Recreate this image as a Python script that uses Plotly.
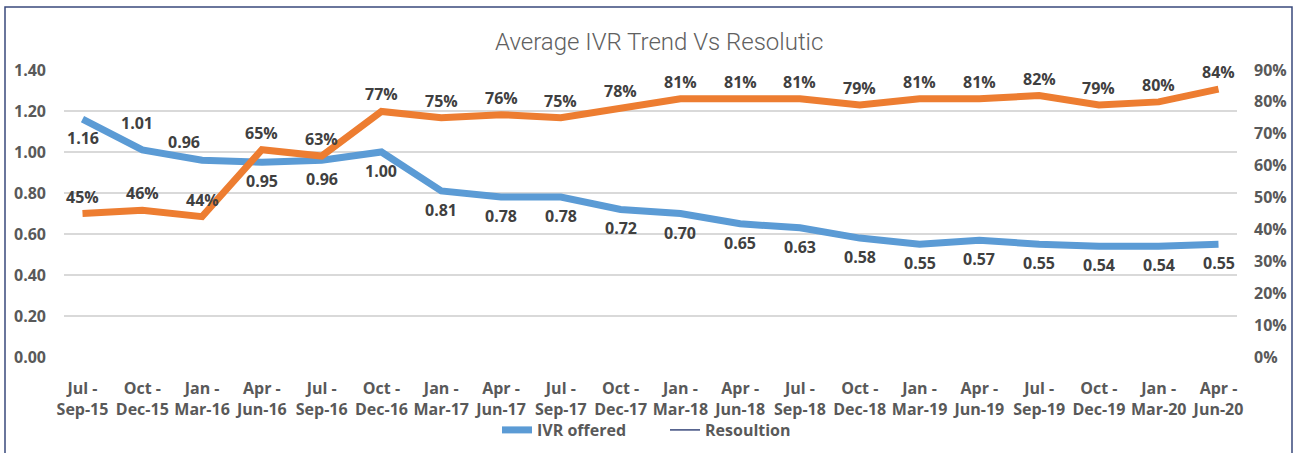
import plotly.graph_objects as go

categories = ["Jul -<br>Sep-15", "Oct -<br>Dec-15", "Jan -<br>Mar-16", "Apr -<br>Jun-16",
              "Jul -<br>Sep-16", "Oct -<br>Dec-16", "Jan -<br>Mar-17", "Apr -<br>Jun-17",
              "Jul -<br>Sep-17", "Oct -<br>Dec-17", "Jan -<br>Mar-18", "Apr -<br>Jun-18",
              "Jul -<br>Sep-18", "Oct -<br>Dec-18", "Jan -<br>Mar-19", "Apr -<br>Jun-19",
              "Jul -<br>Sep-19", "Oct -<br>Dec-19", "Jan -<br>Mar-20", "Apr -<br>Jun-20"]
ivr_offered = [1.16, 1.01, 0.96, 0.95, 0.96, 1.00, 0.81, 0.78, 0.78, 0.72,
               0.70, 0.65, 0.63, 0.58, 0.55, 0.57, 0.55, 0.54, 0.54, 0.55]
resolution = [0.45, 0.46, 0.44, 0.65, 0.63, 0.77, 0.75, 0.76, 0.75, 0.78,
              0.81, 0.81, 0.81, 0.79, 0.81, 0.81, 0.82, 0.79, 0.80, 0.84]
left_ticks = [0.0, 0.2, 0.4, 0.6, 0.8, 1.0, 1.2, 1.4]
right_ticks = [0.0, 0.1, 0.2, 0.3, 0.4, 0.5, 0.6, 0.7, 0.8, 0.9]

W, H = 1301, 453
L, R, T, B = 64, 64, 70, 96
PW, PH = W - L - R, H - T - B

BLUE = "#5B9BD5"
ORANGE = "#ED7D31"
NAVY = "#3A4A7C"
TXT = "#404040"
TICK = "#595959"
FONT = "Open Sans"
FS = 16

fig = go.Figure()
fig.add_trace(go.Scatter(x=categories, y=ivr_offered, mode="lines", name="IVR offered",
                         line=dict(color=BLUE, width=7), yaxis="y", legend="legend"))
fig.add_trace(go.Scatter(x=categories, y=resolution, mode="lines", name="Resoultion",
                         line=dict(color=ORANGE, width=7), yaxis="y2", showlegend=False))
fig.add_trace(go.Scatter(x=[None], y=[None], mode="lines", name="Resoultion",
                         line=dict(color=NAVY, width=1.5), yaxis="y2", legend="legend2"))

annotations = []
for i, (c, v) in enumerate(zip(categories, ivr_offered)):
    if i == 1:
        dx, dy = -5, 27
    elif i == 2:
        dx, dy = -18, 18
    else:
        dx, dy = 0, -19
    annotations.append(dict(x=c, y=v, xref="x", yref="y", text=f"<b>{v:.2f}</b>",
                            showarrow=False, xshift=dx, yshift=dy,
                            font=dict(family=FONT, size=FS, color=TXT)))
for c, v in zip(categories, resolution):
    annotations.append(dict(x=c, y=v, xref="x", yref="y2", text=f"<b>{round(v*100)}%</b>",
                            showarrow=False, yshift=17,
                            font=dict(family=FONT, size=FS, color=TXT)))

annotations.append(dict(x=(659 - L) / PW, y=(357 - 42) / PH, xref="paper", yref="paper",
                        text="Average IVR Trend Vs Resolutic", showarrow=False,
                        xanchor="center", yanchor="middle",
                        font=dict(family="Roboto", size=24, color="#606060", weight=300)))

legfont = dict(family=FONT, size=FS, color=TICK, weight="bold")
fig.update_layout(
    width=W, height=H,
    margin=dict(l=L, r=R, t=T, b=B, autoexpand=False),
    paper_bgcolor="white", plot_bgcolor="white",
    showlegend=True,
    legend=dict(orientation="h", x=(497 - L) / PW, xanchor="left", y=(357 - 430) / PH,
                yanchor="middle", font=legfont, itemwidth=30, bgcolor="rgba(0,0,0,0)"),
    legend2=dict(orientation="h", x=(665 - L) / PW, xanchor="left", y=(357 - 430) / PH,
                 yanchor="middle", font=legfont, itemwidth=30, bgcolor="rgba(0,0,0,0)"),
    xaxis=dict(type="category", showgrid=False, zeroline=False, showline=False,
               ticks="", tickfont=dict(family=FONT, size=FS, color=TICK, weight="bold"),
               ticklabelstandoff=20, automargin=False),
    yaxis=dict(range=[0, 1.4], tickvals=left_ticks, ticktext=[f"{v:.2f}" for v in left_ticks],
               showgrid=True, gridcolor="#D9D9D9", gridwidth=1.5, zeroline=False,
               showline=False, ticks="", ticklabelstandoff=17, automargin=False,
               tickfont=dict(family=FONT, size=FS, color=TICK, weight="bold")),
    yaxis2=dict(range=[0, 0.9], overlaying="y", side="right", tickvals=right_ticks,
                ticktext=[f"{round(v*100)}%" for v in right_ticks],
                showgrid=False, zeroline=False, showline=False, ticks="", ticklabelstandoff=16,
                automargin=False,
                tickfont=dict(family=FONT, size=FS, color=TICK, weight="bold")),
    annotations=annotations,
    shapes=[dict(type="rect", xref="paper", yref="paper",
                 x0=(5 - L) / PW, x1=(1292 - L) / PW,
                 y0=(357 - 470) / PH, y1=(357 - 7) / PH,
                 line=dict(color=NAVY, width=1.5), fillcolor="rgba(0,0,0,0)", layer="below")],
)

fig.write_html("out.html", config={"displayModeBar": False},
               post_script="document.body.style.margin='0';document.body.style.overflow='hidden';")
